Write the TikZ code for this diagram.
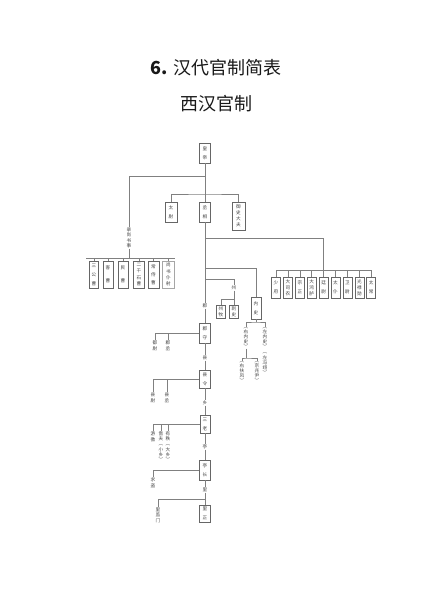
\documentclass[tikz,border=0pt]{standalone}
\usepackage{fontspec}
\setmainfont{Noto Sans CJK SC}
\newfontfamily\cjk{Noto Sans CJK SC}
\tikzset{
 ln/.style={draw=black!50, line width=0.45pt},
 bx/.style={draw=black!60, line width=0.45pt, inner sep=0pt, align=center, text=black!75},
 vt/.style={font=\cjk\fontsize{4.6}{#1}\selectfont},
 lb/.style={inner sep=0.4pt, align=center, text=black!75, fill=white},
 ttl/.style={font=\cjk\fontsize{18}{20}\selectfont, text=black!90},
}
\begin{document}
\begin{tikzpicture}[x=1pt,y=-1pt]
\useasboundingbox[fill=white] (0,0) rectangle (433,600);
% titles
\node[ttl] (title) at (216,68) {\textbf{6.} 汉代官制简表};
\node[ttl] (sub) at (216,104) {西汉官制};
% top
\node[bx,vt=9,minimum width=11,minimum height=20] (hd) at (205,153) {皇\\帝};
\node[bx,vt=9,minimum width=12,minimum height=20] (ty) at (171,212) {太\\尉};
\node[bx,vt=9,minimum width=11,minimum height=20] (cx) at (205,212) {丞\\相};
\node[bx,vt=6,minimum width=13,minimum height=28] (ys) at (238.5,216) {御\\史\\大\\夫};
\coordinate (j1) at (205,176);
\coordinate (t1) at (205,194);
\draw[ln] (hd.south) -- (cx.north);
\draw[ln] (ty.north) |- (t1) -| (ys.north);
% left group
\node[lb,vt=5.3] (ls) at (129,238) {录\\尚\\书\\事};
\draw[ln] (j1) -| (ls.north);
\coordinate (lbar) at (129,258);
\coordinate (lbL) at (86,258);
\coordinate (lbR) at (175,258);
\draw[ln] (ls.south) -- (lbar);
\draw[ln] (lbL) -- (lbR);
\node[bx,vt=9,minimum width=9,minimum height=27] (s1) at (94,274.5) {三\\公\\曹};
\node[bx,vt=13,minimum width=10,minimum height=27] (s2) at (108,274.5) {客\\曹};
\node[bx,vt=13,minimum width=10,minimum height=27] (s3) at (123,274.5) {民\\曹};
\node[bx,vt=6.3,minimum width=11,minimum height=27] (s4) at (139,274.5) {二\\千\\石\\曹};
\node[bx,vt=8,minimum width=11,minimum height=27] (s5) at (153.5,274.5) {常\\侍\\曹};
\node[bx,draw=black!35,vt=6.3,minimum width=12,minimum height=27] (s6) at (168.5,274.5) {尚\\书\\仆\\射};
\foreach \n in {s1,s2,s3,s4,s5,s6} \draw[ln] (\n.north) -- (\n.north |- lbar);
% nine ministers
\coordinate (r1) at (205,238);
\coordinate (nbar) at (276,270);
\coordinate (nbR) at (371.2,270);
\node[bx,vt=9,minimum width=9,minimum height=21] (q1) at (276,287.5) {少\\府};
\node[bx,vt=6,minimum width=9,minimum height=21] (q2) at (287.9,287.5) {大\\司\\农};
\node[bx,vt=9,minimum width=9,minimum height=21] (q3) at (299.8,287.5) {宗\\正};
\node[bx,vt=6,minimum width=9,minimum height=21] (q4) at (311.7,287.5) {大\\鸿\\胪};
\node[bx,vt=9,minimum width=9,minimum height=21] (q5) at (323.6,287.5) {廷\\尉};
\node[bx,vt=9,minimum width=9,minimum height=21] (q6) at (335.5,287.5) {太\\仆};
\node[bx,vt=9,minimum width=9,minimum height=21] (q7) at (347.4,287.5) {卫\\尉};
\node[bx,vt=6,minimum width=9,minimum height=21] (q8) at (359.3,287.5) {光\\禄\\勋};
\node[bx,vt=9,minimum width=9,minimum height=21] (q9) at (371.2,287.5) {太\\常};
\draw[ln] (r1) -| (q5.north);
\draw[ln] (nbar) -- (nbR);
\foreach \n in {q1,q2,q3,q4,q6,q7,q8,q9} \draw[ln] (\n.north) -- (\n.north |- nbar);
% zhou and neishi
\coordinate (r2) at (205,268);
\coordinate (r3) at (205,279);
\node[bx,vt=9,minimum width=10,minimum height=22] (ns) at (256,308) {内\\史};
\draw[ln] (r2) -| (ns.north);
\node[lb,vt=6] (zh) at (234,288) {州};
\draw[ln] (r3) -| (zh.north);
\coordinate (zb) at (234,299);
\node[bx,vt=6,minimum width=9,minimum height=13] (zm) at (221,312) {州\\牧};
\node[bx,vt=6,minimum width=9,minimum height=13] (cs) at (234,312) {刺\\史};
\draw[ln] (zh.south) -- (zb);
\draw[ln] (zm.north) |- (zb) -- (cs.north);
% neishi children
\coordinate (nb) at (256,322);
\node[lb,vt=4.9,anchor=north] (ynh) at (246,327) {︵\\右\\内\\史\\︶};
\node[lb,vt=5.1,anchor=north] (znh) at (265,327) {︵\\左\\内\\史\\︶\\︵\\左\\冯\\翊\\︶};
\draw[ln] (ns.south) -- (nb);
\draw[ln] (ynh.north) |- (nb) -| (znh.north);
\coordinate (yb) at (246,358);
\node[lb,vt=4.9,anchor=north] (yff) at (242,361) {︵\\右\\扶\\风\\︶};
\node[lb,vt=4.9,anchor=north] (jzy) at (257,361) {︵\\京\\兆\\尹\\︶};
\draw[ln] (ynh.south) -- (yb);
\draw[ln] (yff.north) |- (yb) -| (jzy.north);
% main column
\node[lb,vt=6] (jun) at (205,306) {郡};
\node[bx,vt=9,minimum width=11,minimum height=20] (jsh) at (205,333) {郡\\守};
\node[lb,vt=6] (xian) at (205,358) {县};
\node[bx,vt=9,minimum width=11,minimum height=18] (xl) at (205,379) {县\\令};
\node[lb,vt=6] (xiang) at (205,403) {乡};
\node[bx,vt=9,minimum width=10,minimum height=18] (sl) at (205,424) {三\\老};
\node[lb,vt=6] (ting) at (205,447) {亭};
\node[bx,vt=9,minimum width=11,minimum height=20] (tz) at (205,470) {亭\\长};
\node[lb,vt=6] (li) at (205,490) {里};
\node[bx,vt=9,minimum width=11,minimum height=17] (lz) at (205,513.5) {里\\正};
\draw[ln] (cx.south) -- (jun.north);
\draw[ln] (jun.south) -- (jsh.north);
\draw[ln] (jsh.south) -- (xian.north);
\draw[ln] (xian.south) -- (xl.north);
\draw[ln] (xl.south) -- (xiang.north);
\draw[ln] (xiang.south) -- (sl.north);
\draw[ln] (sl.south) -- (ting.north);
\draw[ln] (ting.south) -- (tz.north);
\draw[ln] (tz.south) -- (li.north);
\draw[ln] (li.south) -- (lz.north);
% side officials
\node[lb,vt=6,anchor=north] (dw) at (155,340) {都\\尉};
\node[lb,vt=6,anchor=north] (jc) at (168,340) {郡\\丞};
\draw[ln] (jsh.west) -| (dw.north);
\draw[ln] (jc.north) -- (jc.north |- jsh.west);
\node[lb,vt=6,anchor=north] (xw) at (153,392) {县\\尉};
\node[lb,vt=6,anchor=north] (xc) at (167,392) {县\\丞};
\draw[ln] (xl.west) -| (xw.north);
\draw[ln] (xc.north) -- (xc.north |- xl.west);
\node[lb,vt=6,anchor=north] (yj) at (153,431) {游\\徼};
\node[lb,vt=5.2,anchor=north] (sf) at (161,431) {啬\\夫\\︵\\小\\乡\\︶};
\node[lb,vt=5.2,anchor=north] (yz) at (168,431) {有\\秩\\︵\\大\\乡\\︶};
\draw[ln] (sl.west) -| (yj.north);
\draw[ln] (sf.north) -- (sf.north |- sl.west);
\draw[ln] (yz.north) -- (yz.north |- sl.west);
\node[lb,vt=6,anchor=north] (qd) at (153,477) {求\\盗};
\draw[ln] (tz.west) -| (qd.north);
\coordinate (lj) at (205,499);
\node[lb,vt=5.5,anchor=north] (ljm) at (158,507) {里\\监\\门};
\draw[ln] (lj) -| (ljm.north);
\end{tikzpicture}
\end{document}
